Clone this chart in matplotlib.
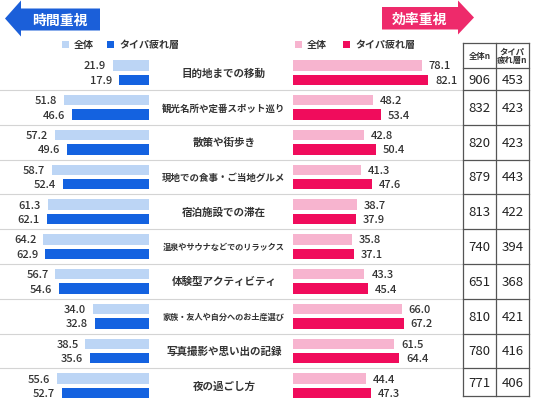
import numpy as np
import matplotlib
matplotlib.use('Agg')
import matplotlib.pyplot as plt
from matplotlib.patches import Polygon, Rectangle

plt.rcParams['font.family'] = ['Noto Sans CJK JP', 'DejaVu Sans']

# data
categories = ['目的地までの移動', '観光名所や定番スポット巡り', '散策や街歩き',
              '現地での食事・ご当地グルメ', '宿泊施設での滞在', '温泉やサウナなどでのリラックス',
              '体験型アクティビティ', '家族・友人や自分へのお土産選び',
              '写真撮影や思い出の記録', '夜の過ごし方']
time_all = [21.9, 51.8, 57.2, 58.7, 61.3, 64.2, 56.7, 34.0, 38.5, 55.6]
time_tp = [17.9, 46.6, 49.6, 52.4, 62.1, 62.9, 54.6, 32.8, 35.6, 52.7]
eff_all = [78.1, 48.2, 42.8, 41.3, 38.7, 35.8, 43.3, 66.0, 61.5, 44.4]
eff_tp = [82.1, 53.4, 50.4, 47.6, 37.9, 37.1, 45.4, 67.2, 64.4, 47.3]
n_all = [906, 832, 820, 879, 813, 740, 651, 810, 780, 771]
n_tp = [453, 423, 423, 443, 422, 394, 368, 421, 416, 406]

# colours
blue_light = '#bcd5f5'
blue_dark = '#1462e0'
pink_light = '#f7b4cf'
pink_dark = '#f00c5c'
blue_arrow = '#1b5fd9'
pink_arrow = '#ee2a6b'
txt = '#333333'

W, H = 536, 402
fig = plt.figure(figsize=(W / 100, H / 100), dpi=100)

# background canvas in pixel units
bg = fig.add_axes([0, 0, 1, 1])
bg.set_xlim(0, W)
bg.set_ylim(H, 0)
bg.axis('off')

# row geometry (pixels)
c0, pitch = 73.6, 34.8
n = len(categories)
centers = c0 + pitch * np.arange(n)
seps = centers[:-1] + pitch / 2

px_per = 1.65  # pixels per percentage point
left_end, right_start = 149, 293
tab_l, tab_m, tab_r = 463, 496, 529
tab_top, tab_head, tab_bot = 44, 69, 397

# bar axes share the same row scale
ylim = ((H - c0) / pitch, -c0 / pitch)
axl = fig.add_axes([0, 0, left_end / W, 1])
axl.set_xlim(-left_end / px_per, 0)
axr = fig.add_axes([right_start / W, 0, (tab_l - right_start) / W, 1])
axr.set_xlim(0, (tab_l - right_start) / px_per)
for a in (axl, axr):
    a.set_ylim(*ylim)
    a.axis('off')
    a.patch.set_alpha(0)

y = np.arange(n)
off, bh = 7.2 / pitch, 10.5 / pitch
axl.barh(y - off, [-v for v in time_all], height=bh, color=blue_light)
axl.barh(y + off, [-v for v in time_tp], height=bh, color=blue_dark)
axr.barh(y - off, eff_all, height=bh, color=pink_light)
axr.barh(y + off, eff_tp, height=bh, color=pink_dark)

for i in range(n):
    for v, d in ((time_all[i], -off), (time_tp[i], off)):
        axl.annotate(f'{v:.1f}', (-v, i + d), xytext=(-5, 0), textcoords='offset points',
                     ha='right', va='center', fontsize=8, color=txt, fontweight='medium')
    for v, d in ((eff_all[i], -off), (eff_tp[i], off)):
        axr.annotate(f'{v:.1f}', (v, i + d), xytext=(5, 0), textcoords='offset points',
                     ha='left', va='center', fontsize=8, color=txt, fontweight='medium')

# category labels (long ones shrink to fit between the bars)
mid = 224
for c, lab in zip(centers, categories):
    fs = min(7.6, 123 / (len(lab) * 1.389))
    bg.text(mid, c, lab, ha='center', va='center', fontsize=fs, color=txt, fontweight='bold')

# row separators
for s in seps:
    bg.plot([0, tab_l], [s, s], color='#d4d4d4', lw=0.8)

# table
edges = [tab_head] + list(seps) + [tab_bot]
for e in [tab_top] + edges:
    bg.plot([tab_l, tab_r], [e, e], color='#555555', lw=0.9)
for xv in (tab_l, tab_m, tab_r):
    bg.plot([xv, xv], [tab_top, tab_bot], color='#555555', lw=0.9)
bg.text((tab_l + tab_m) / 2, (tab_top + tab_head) / 2, '全体n', ha='center', va='center',
        fontsize=6, color=txt, fontweight='bold')
bg.text((tab_m + tab_r) / 2, (tab_top + tab_head) / 2, 'タイパ\n疲れ層n', ha='center', va='center',
        fontsize=6, color=txt, fontweight='bold', linespacing=1.0)
for i in range(n):
    cy = (edges[i] + edges[i + 1]) / 2
    bg.text((tab_l + tab_m) / 2, cy, str(n_all[i]), ha='center', va='center', fontsize=9.5, color='#222222')
    bg.text((tab_m + tab_r) / 2, cy, str(n_tp[i]), ha='center', va='center', fontsize=9.5, color='#222222')

# header arrows
bg.add_patch(Polygon([(5, 19.5), (21, 1.5), (21, 9.5), (100, 9.5), (100, 31.5), (21, 31.5), (21, 37.5)],
                     closed=True, color=blue_arrow, lw=0))
bg.text(60, 20.5, '時間重視', ha='center', va='center', fontsize=10, color='white', fontweight='bold')
bg.add_patch(Polygon([(382, 8), (458, 8), (458, 1.5), (474, 18.5), (458, 35.5), (458, 30.5), (382, 30.5)],
                     closed=True, color=pink_arrow, lw=0))
bg.text(420, 19.5, '効率重視', ha='center', va='center', fontsize=10, color='white', fontweight='bold')

# legends
def legend_item(x, col, label):
    bg.add_patch(Rectangle((x, 41.5), 7, 7, color=col, lw=0))
    bg.text(x + 12, 45, label, ha='left', va='center', fontsize=7.2, color=txt, fontweight='bold')

legend_item(62, blue_light, '全体')
legend_item(107, blue_dark, 'タイパ疲れ層')
legend_item(295, pink_light, '全体')
legend_item(343, pink_dark, 'タイパ疲れ層')

fig.savefig('out.png', dpi=100)
